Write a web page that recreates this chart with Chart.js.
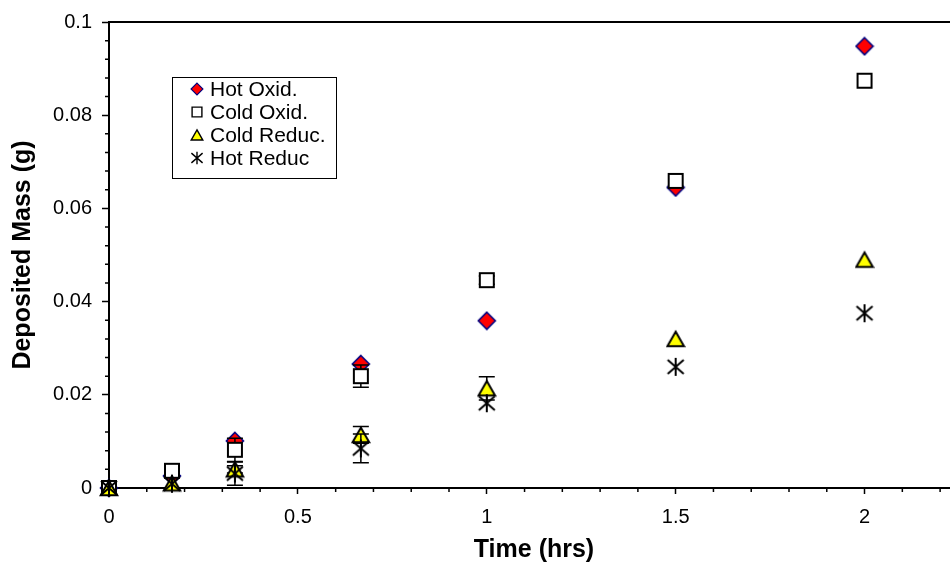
<!DOCTYPE html>
<html>
<head>
<meta charset="utf-8">
<title>Deposited Mass vs Time</title>
<script src="https://cdn.jsdelivr.net/npm/chart.js@4/dist/chart.umd.min.js"></script>
<style>
  html, body { margin: 0; padding: 0; background: #fff; overflow: hidden; }
  #wrap { width: 950px; height: 569px; overflow: hidden; position: relative; }
  canvas { display: block; }
</style>
</head>
<body>
<div id="wrap"><canvas id="chart" width="1000" height="569"></canvas></div>
<script>
// Sampling times (hrs)
const times = [0, 1/6, 1/3, 2/3, 1, 1.5, 2];

// Deposited mass (g) for each run condition
const hotOxid   = [0, 0.0026, 0.0101, 0.0266, 0.0359, 0.0645, 0.0948];
const coldOxid  = [0, 0.0037, 0.0082, 0.0240, 0.0446, 0.0659, 0.0874];
const coldReduc = [0, 0.0010, 0.0040, 0.0114, 0.0214, 0.0320, 0.0490];
const hotReduc  = [0, 0.0009, 0.0031, 0.0085, 0.0182, 0.0260, 0.0375];

// Error bar half-widths (g)
const hotOxidErr   = [0, 0, 0, 0, 0, 0, 0];
const coldOxidErr  = [0, 0, 0.0025, 0.0024, 0.0009, 0, 0];
const coldReducErr = [0, 0, 0.0008, 0.0018, 0.0025, 0, 0];
const hotReducErr  = [0, 0, 0.0025, 0.0031, 0, 0, 0];

const seriesNames = ['Hot Oxid.', 'Cold Oxid.', 'Cold Reduc.', 'Hot Reduc'];
const xTickLabels = ['0', '0.5', '1', '1.5', '2'];
const yTickLabels = ['0', '0.02', '0.04', '0.06', '0.08', '0.1'];

const FONT = "'Liberation Sans', Arial, Helvetica, sans-serif";
const X_MAX = 2.25, X_STEP = 0.5, X_MINOR = 0.1;
const Y_MAX = 0.1,  Y_STEP = 0.02, Y_MINOR = 0.004;

// Marker glyphs, drawn in a 20x20 design box
function drawMarker(g, kind) {
  g.lineJoin = 'miter';
  g.beginPath();
  if (kind === 'diamond') {
    g.moveTo(10, 1.5); g.lineTo(18.5, 10); g.lineTo(10, 18.5); g.lineTo(1.5, 10); g.closePath();
    g.fillStyle = '#ff0000'; g.fill();
    g.strokeStyle = '#000080'; g.lineWidth = 1.6; g.stroke();
  } else if (kind === 'square') {
    g.rect(3, 3, 14, 14);
    g.fillStyle = '#ffffff'; g.fill();
    g.strokeStyle = '#000000'; g.lineWidth = 2; g.stroke();
  } else if (kind === 'triangle') {
    g.moveTo(10, 2.8); g.lineTo(18.3, 17.2); g.lineTo(1.7, 17.2); g.closePath();
    g.fillStyle = '#ffff00'; g.fill();
    g.strokeStyle = '#000000'; g.lineWidth = 2; g.stroke();
  } else if (kind === 'asterisk') {
    g.moveTo(2, 3); g.lineTo(18, 17);
    g.moveTo(18, 3); g.lineTo(2, 17);
    g.moveTo(10, 1); g.lineTo(10, 19);
    g.strokeStyle = '#000000'; g.lineWidth = 2; g.stroke();
  }
}
function makeMarker(kind, size) {
  const c = document.createElement('canvas');
  c.width = size; c.height = size;
  const g = c.getContext('2d');
  g.scale(size / 20, size / 20);
  drawMarker(g, kind);
  return c;
}

const markerKinds = ['diamond', 'square', 'triangle', 'asterisk'];
const plotMarkers = markerKinds.map(k => makeMarker(k, 20));
const legendMarkers = markerKinds.map(k => makeMarker(k, 14));

const seriesValues = [hotOxid, coldOxid, coldReduc, hotReduc];
const seriesErrors = [hotOxidErr, coldOxidErr, coldReducErr, hotReducErr];

const datasets = seriesNames.map((name, s) => ({
  label: name,
  data: times.map((t, i) => ({ x: t, y: seriesValues[s][i] })),
  errors: seriesErrors[s],
  pointStyle: plotMarkers[s],
  pointRadius: 9,
  showLine: false,
  clip: false,
  order: seriesNames.length - 1 - s   // later series are painted on top
}));

// Plot frame (top/right edges) and minor tick marks
const framePlugin = {
  id: 'frame',
  beforeDatasetsDraw(chart) {
    const { ctx, chartArea: a, scales: { x, y } } = chart;
    ctx.save();
    ctx.strokeStyle = '#000';
    ctx.lineWidth = 2;
    ctx.beginPath();
    ctx.moveTo(a.left, a.top); ctx.lineTo(a.right, a.top); ctx.lineTo(a.right, a.bottom);
    ctx.stroke();
    ctx.lineWidth = 1.5;
    ctx.beginPath();
    for (let k = 1; k * X_MINOR < X_MAX - 1e-9; k++) {
      if (k % 5 === 0) continue;
      const px = x.getPixelForValue(k * X_MINOR);
      ctx.moveTo(px, a.bottom); ctx.lineTo(px, a.bottom + 4);
    }
    for (let k = 1; k * Y_MINOR < Y_MAX - 1e-9; k++) {
      if (k % 5 === 0) continue;
      const py = y.getPixelForValue(k * Y_MINOR);
      ctx.moveTo(a.left, py); ctx.lineTo(a.left - 4, py);
    }
    ctx.stroke();
    ctx.restore();
  }
};

// Vertical error bars with caps, painted just under each series' markers
const errorBarPlugin = {
  id: 'errorBars',
  beforeDatasetDraw(chart, args) {
    const ds = chart.data.datasets[args.index];
    if (!ds.errors) return;
    const { ctx, scales: { x, y } } = chart;
    ctx.save();
    ctx.strokeStyle = '#000';
    ctx.lineWidth = 1.5;
    ctx.beginPath();
    ds.data.forEach((p, i) => {
      const e = ds.errors[i];
      if (!e) return;
      const px = x.getPixelForValue(p.x);
      const top = y.getPixelForValue(p.y + e);
      const bot = y.getPixelForValue(p.y - e);
      ctx.moveTo(px, top); ctx.lineTo(px, bot);
      ctx.moveTo(px - 8, top); ctx.lineTo(px + 8, top);
      ctx.moveTo(px - 8, bot); ctx.lineTo(px + 8, bot);
    });
    ctx.stroke();
    ctx.restore();
  }
};

// Boxed legend inside the plot area
const legendBox = { left: 172, top: 77, width: 164, height: 101, markerX: 197, textX: 210, firstRow: 89, rowGap: 23 };
const boxLegendPlugin = {
  id: 'boxLegend',
  afterDraw(chart) {
    const { ctx } = chart;
    const L = legendBox;
    ctx.save();
    ctx.fillStyle = '#fff';
    ctx.fillRect(L.left, L.top, L.width, L.height);
    ctx.strokeStyle = '#000';
    ctx.lineWidth = 1;
    ctx.strokeRect(L.left + 0.5, L.top + 0.5, L.width, L.height);
    ctx.font = '21px ' + FONT;
    ctx.fillStyle = '#000';
    ctx.textBaseline = 'middle';
    ctx.textAlign = 'left';
    chart.data.datasets.forEach((ds, i) => {
      const cy = L.firstRow + i * L.rowGap;
      const m = legendMarkers[i];
      ctx.drawImage(m, L.markerX - m.width / 2, cy - m.height / 2);
      ctx.fillText(ds.label, L.textX, cy + 1);
    });
    ctx.restore();
  }
};

new Chart(document.getElementById('chart'), {
  type: 'scatter',
  data: { datasets },
  options: {
    responsive: false,
    animation: false,
    devicePixelRatio: 1,
    layout: { padding: { top: 20, right: 41, bottom: 0, left: 0 } },
    plugins: {
      legend: { display: false },
      tooltip: { enabled: false }
    },
    scales: {
      x: {
        type: 'linear',
        position: 'bottom',
        min: 0,
        max: X_MAX,
        afterFit: s => { s.height = 81; },
        ticks: {
          stepSize: X_STEP,
          includeBounds: false,
          padding: 11,
          color: '#000',
          font: { family: FONT, size: 20 },
          maxRotation: 0,
          callback: (v, i) => xTickLabels[i] ?? ''
        },
        grid: { drawOnChartArea: false, drawTicks: true, tickLength: 6, tickColor: '#000', tickWidth: 1.5 },
        border: { display: true, color: '#000', width: 2 },
        title: {
          display: true,
          text: 'Time (hrs)',
          color: '#000',
          font: { family: FONT, size: 25, weight: 'bold', lineHeight: 1.2 },
          padding: { top: 0, bottom: 4 }
        }
      },
      y: {
        type: 'linear',
        position: 'left',
        min: 0,
        max: Y_MAX,
        afterFit: s => { s.width = 109; },
        ticks: {
          stepSize: Y_STEP,
          padding: 10,
          color: '#000',
          font: { family: FONT, size: 20 },
          callback: (v, i) => yTickLabels[i] ?? ''
        },
        grid: { drawOnChartArea: false, drawTicks: true, tickLength: 7, tickColor: '#000', tickWidth: 1.5 },
        border: { display: true, color: '#000', width: 2 },
        title: {
          display: true,
          text: 'Deposited Mass (g)',
          color: '#000',
          font: { family: FONT, size: 25, weight: 'bold', lineHeight: 1.2 },
          padding: { top: 8, bottom: 0 }
        }
      }
    }
  },
  plugins: [framePlugin, errorBarPlugin, boxLegendPlugin]
});
</script>
</body>
</html>
